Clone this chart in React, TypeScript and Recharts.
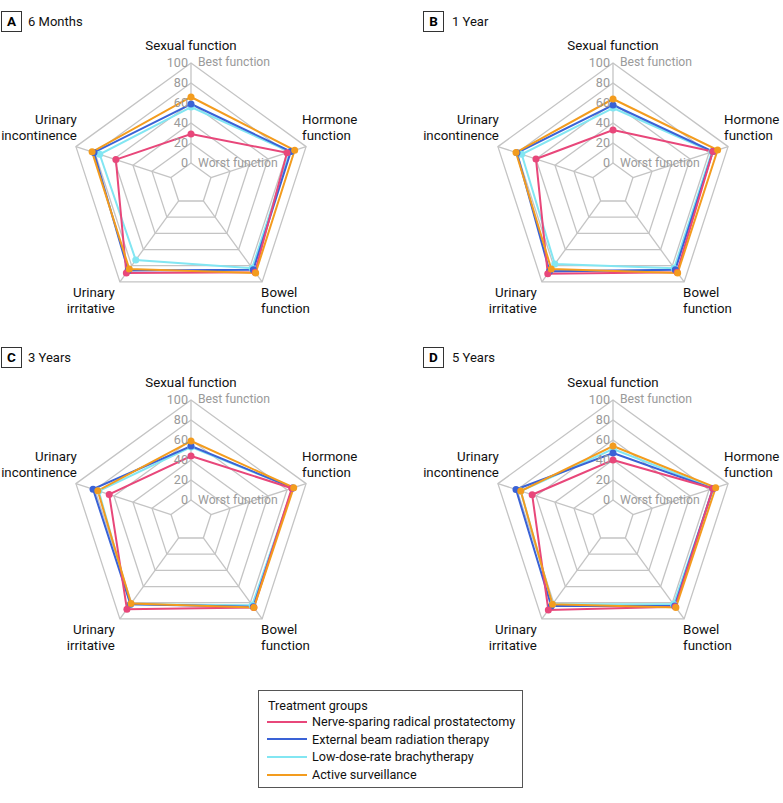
import React from 'react';
import { RadarChart, Radar, PolarGrid, PolarAngleAxis, PolarRadiusAxis } from 'recharts';

// domains, clockwise from the top
const domains = ['Sexual function', 'Hormone function', 'Bowel function', 'Urinary irritative', 'Urinary incontinence'];
const domainLines = [['Sexual function'], ['Hormone', 'function'], ['Bowel', 'function'], ['Urinary', 'irritative'], ['Urinary', 'incontinence']];
const radiusTicks = [0, 20, 40, 60, 80, 100];

const groups = ['Nerve-sparing radical prostatectomy', 'External beam radiation therapy', 'Low-dose-rate brachytherapy', 'Active surveillance'];
const groupColors = ['#E8477A', '#3A62D6', '#82E6F2', '#F39C1E'];
// order the lines are painted in (legend index)
const drawOrder = [2, 1, 0, 3];

// values per group: [sexual, hormone, bowel, irritative, incontinence]
const months6 = [
  [29, 80, 88, 89, 58],
  [59, 84, 85, 86, 81],
  [56, 83, 83, 73, 75],
  [66, 88, 89, 84, 83],
];
const year1 = [
  [33, 84, 88, 90, 60],
  [58, 84, 85, 87, 80],
  [55, 83, 83, 78, 75],
  [64, 89, 89, 84, 81],
];
const years3 = [
  [44, 85, 86, 88, 65],
  [54, 86, 85, 82, 82],
  [53, 86, 83, 82, 76],
  [59, 87, 86, 81, 77],
];
const years5 = [
  [40, 84, 85, 89, 64],
  [47, 84, 84, 84, 81],
  [51, 85, 82, 82, 76],
  [54, 87, 86, 82, 76],
];

const panels = [
  { letter: 'A', title: '6 Months', values: months6, left: 0, top: 0, cx: 191, cy: 184 },
  { letter: 'B', title: '1 Year', values: year1, left: 390, top: 0, cx: 223, cy: 184 },
  { letter: 'C', title: '3 Years', values: years3, left: 0, top: 336, cx: 191, cy: 185 },
  { letter: 'D', title: '5 Years', values: years5, left: 390, top: 336, cx: 223, cy: 185 },
];

const FONT = 'Roboto, "Liberation Sans", Arial, sans-serif';
const OUTER = 121;
const INNER = 21;

const makeAngleTick = (cx: number, cy: number) => (props: any) => {
  const { payload, index } = props;
  const a = (payload.coordinate * Math.PI) / 180;
  const vx = cx + OUTER * Math.cos(a);
  const vy = cy - OUTER * Math.sin(a);
  const c = Math.cos(a);
  const s = Math.sin(a);
  const lines = domainLines[index] || [payload.value];
  let anchor: 'start' | 'middle' | 'end' = 'middle';
  let x = vx;
  let y0 = vy;
  if (s > 0.9) {
    y0 = vy - 18;
  } else if (c > 0) {
    anchor = 'start';
    x = s > 0 ? vx - 4 : vx - 1;
    y0 = s > 0 ? vy - 27 : vy + 11;
  } else {
    anchor = 'end';
    x = s > 0 ? vx + 1 : vx - 5;
    y0 = s > 0 ? vy - 27 : vy + 11;
  }
  return (
    <g>
      {lines.map((l: string, i: number) => (
        <text key={i} x={x} y={y0 + i * 16} textAnchor={anchor} dominantBaseline="central" fontSize={13.3} fill="#111" fontFamily={FONT}>
          {l}
        </text>
      ))}
    </g>
  );
};

const RadiusTick = (props: any) => {
  const { x, y, payload } = props;
  return (
    <g>
      <text x={x - 3} y={y - 1} textAnchor="end" dominantBaseline="central" fontSize={12.6} fill="#9a9a9a" fontFamily={FONT}>
        {payload.value}
      </text>
      {payload.value === 100 && (
        <text x={x + 7} y={y - 1} textAnchor="start" dominantBaseline="central" fontSize={12.2} fill="#9a9a9a" fontFamily={FONT}>
          Best function
        </text>
      )}
      {payload.value === 0 && (
        <text x={x + 7} y={y} textAnchor="start" dominantBaseline="central" fontSize={12.2} fill="#9a9a9a" fontFamily={FONT}>
          Worst function
        </text>
      )}
    </g>
  );
};

const Panel = ({ p }: { p: typeof panels[number] }) => {
  const data = domains.map((d, i) => {
    const row: any = { domain: d };
    p.values.forEach((vals, g) => {
      row['g' + g] = vals[i];
    });
    return row;
  });
  const leftCol = p.letter === 'A' || p.letter === 'C';
  return (
    <div style={{ position: 'absolute', left: p.left, top: p.top, width: 390, height: 336 }}>
      <div
        style={{
          position: 'absolute',
          left: leftCol ? 1 : 33,
          top: 11,
          width: 19,
          height: 19,
          border: '1px solid #333',
          fontWeight: 'bold',
          fontSize: 13.5,
          lineHeight: '19px',
          textAlign: 'center',
          fontFamily: FONT,
        }}
      >
        {p.letter}
      </div>
      <div
        style={{
          position: 'absolute',
          left: leftCol ? 28 : 62,
          top: 12,
          fontSize: 13,
          lineHeight: '19px',
          fontFamily: FONT,
          color: '#111',
          whiteSpace: 'nowrap',
        }}
      >
        {p.title}
      </div>
      <RadarChart
        width={390}
        height={336}
        data={data}
        cx={p.cx}
        cy={p.cy}
        innerRadius={INNER}
        outerRadius={OUTER}
        margin={{ top: 0, right: 0, bottom: 0, left: 0 }}
      >
        <PolarGrid gridType="polygon" stroke="#c4c4c4" strokeWidth={1.3} />
        <PolarAngleAxis dataKey="domain" tick={makeAngleTick(p.cx, p.cy)} tickLine={false} axisLine={false} />
        <PolarRadiusAxis angle={90} domain={[0, 100]} ticks={radiusTicks as any} tickCount={6} axisLine={false} tick={RadiusTick} />
        {drawOrder.map((g) => (
          <Radar
            key={g}
            dataKey={'g' + g}
            name={groups[g]}
            stroke={groupColors[g]}
            strokeWidth={2}
            fill="none"
            dot={{ r: 3.5, fill: groupColors[g], stroke: 'none' }}
            isAnimationActive={false}
          />
        ))}
      </RadarChart>
    </div>
  );
};

export default function App() {
  return (
    <div style={{ position: 'absolute', left: 0, top: 0, width: 783, height: 803, background: '#fff', fontFamily: FONT }}>
      <style>{'svg { overflow: visible; }'}</style>
      {panels.map((p) => (
        <Panel key={p.letter} p={p} />
      ))}
      <div
        style={{
          position: 'absolute',
          left: 258,
          top: 690,
          width: 265,
          height: 98,
          border: '1px solid #555',
          boxSizing: 'border-box',
          fontSize: 12.6,
          color: '#111',
          whiteSpace: 'nowrap',
        }}
      >
        <div style={{ position: 'absolute', left: 9, top: 6, lineHeight: '17px' }}>Treatment groups</div>
        {groups.map((g, i) => (
          <div key={g} style={{ position: 'absolute', left: 8, top: 22 + i * 17.7, height: 17, display: 'flex', alignItems: 'center' }}>
            <div style={{ width: 40, height: 2, background: groupColors[i], marginRight: 5 }} />
            <span style={{ lineHeight: '17px' }}>{g}</span>
          </div>
        ))}
      </div>
    </div>
  );
}
